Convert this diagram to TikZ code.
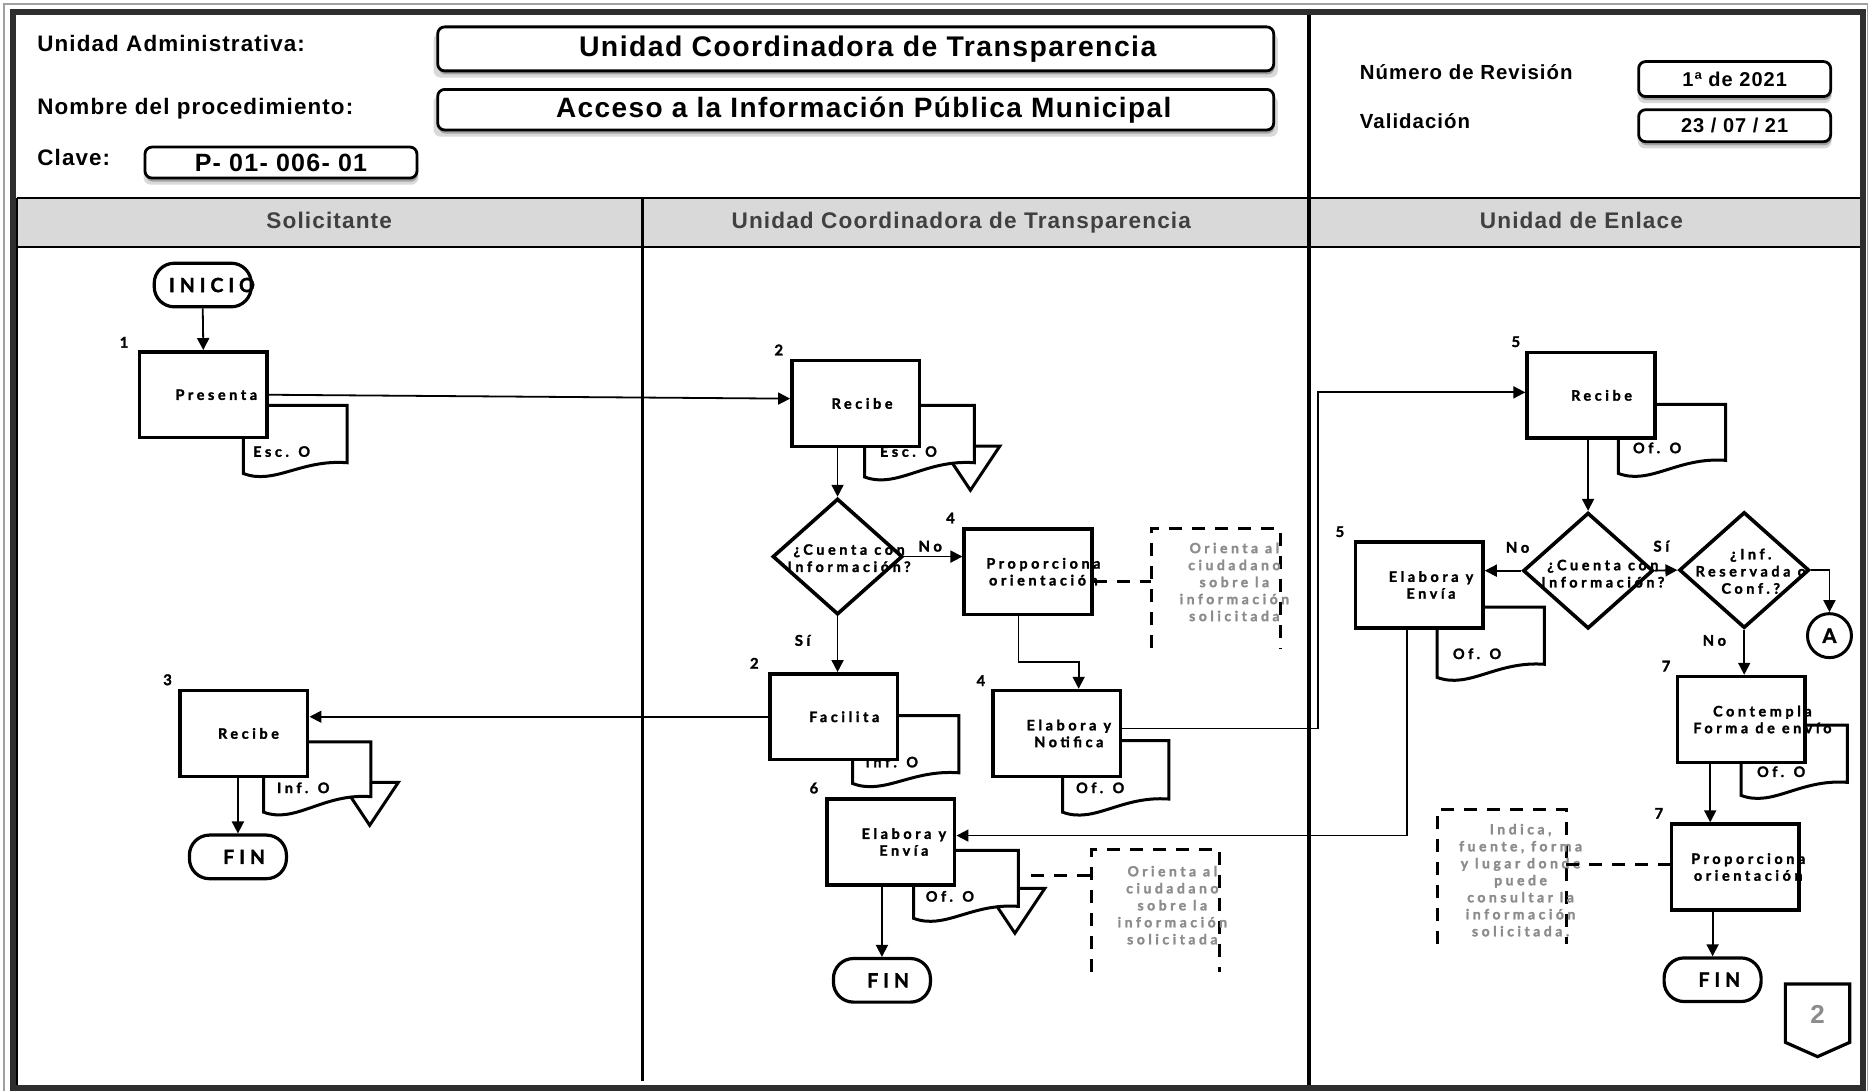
\documentclass[tikz,border=0pt]{standalone}
\usepackage{fontspec}
\usetikzlibrary{arrows.meta,shapes.geometric,shadows}
\newfontfamily\hdrfont[LetterSpace=5]{Liberation Sans}
\newfontfamily\flowfont[LetterSpace=25, FakeBold=1.8]{Lato}
\definecolor{framedark}{HTML}{2E2E2E}
\definecolor{framelight}{HTML}{A0A0A0}
\definecolor{lanefill}{HTML}{D9D9D9}
\definecolor{lanetext}{HTML}{404040}
\definecolor{notegray}{HTML}{8C8C8C}

% document symbol: x0, top, x1, left bottom, right bottom
\newcommand\flowdoc[5]{%
  \draw[docline] (#1,#2) -- (#3,#2) -- (#3,#5)
    .. controls ({#1+0.55*(#3-#1)},{#5-3}) and ({#1+0.3*(#3-#1)},{#4+10}) .. (#1,#4) -- cycle;}
% archive triangle: apex x, top y, half width
\newcommand\flowtri[3]{%
  \draw[docline] ({#1-#3},#2) -- ({#1+#3},#2) -- (#1,{#2+1.5*#3}) -- cycle;}

\begin{document}
\begin{tikzpicture}[x=0.5963pt, y=-0.5963pt,
  hlabel/.style={anchor=base west, inner sep=0pt, font=\hdrfont\bfseries\fontsize{11.2}{13}\selectfont},
  hlabelsm/.style={anchor=base west, inner sep=0pt, font=\hdrfont\bfseries\fontsize{10.2}{12}\selectfont},
  hbox/.style={draw, line width=1.4pt, rounded corners=3.5pt, fill=white, inner sep=0pt,
    drop shadow={shadow xshift=0pt, shadow yshift=-3.2pt, shadow scale=1.01, opacity=0.15, fill=black},
    drop shadow={shadow xshift=0.4pt, shadow yshift=-1.8pt, opacity=0.25, fill=black}},
  lanehead/.style={anchor=base, inner sep=0pt, text=lanetext, font=\hdrfont\bfseries\fontsize{11.3}{13}\selectfont},
  ptext/.style={inner sep=0pt, align=center, font=\flowfont\bfseries\fontsize{7.2}{8.4}\selectfont},
  proc/.style 2 args={draw, line width=1.8pt, fill=white, minimum width=63.8pt, minimum height=42.9pt,
    inner sep=0pt, label={[ptext, xshift=#2]center:#1}},
  ttext/.style={inner sep=0pt, font=\flowfont\bfseries\fontsize{9.8}{11}\selectfont},
  term/.style 2 args={draw, line width=1.6pt, fill=white, rounded corners=10pt, minimum width=48.5pt,
    minimum height=21.8pt, inner sep=0pt, label={[ttext, xshift=#2]center:#1}},
  decision/.style={diamond, draw, line width=1.8pt, fill=white, minimum width=65pt, minimum height=58pt, inner sep=0pt},
  dtext/.style={inner sep=0pt, align=center, font=\flowfont\bfseries\fontsize{7.2}{8.6}\selectfont},
  stepnum/.style={inner sep=0pt, font=\flowfont\bfseries\fontsize{7.4}{8}\selectfont},
  doctext/.style={anchor=base west, inner sep=0pt, font=\flowfont\bfseries\fontsize{7.2}{8}\selectfont},
  notebox/.style={inner sep=0pt},
  notetext/.style={inner sep=0pt, align=center, text=notegray, font=\flowfont\bfseries\fontsize{7}{8.5}\selectfont},
  docline/.style={line width=1.5pt, fill=white, line join=miter},
  dashline/.style={line width=1.5pt, dash pattern=on 6.5pt off 5pt},
  flow/.style={line width=0.9pt, -{Triangle[length=6pt,width=6pt]}}
]
\useasboundingbox (0,0) rectangle (1568,915);
\fill[white] (0,0) rectangle (1568,915);

% ---------- lane header band and lane lines ----------
\fill[lanefill] (15,166) rectangle (1562,207);
\draw[line width=1.3pt] (14,166) -- (1562,166);
\draw[line width=1.3pt] (14,207) -- (1562,207);
\draw[line width=1.3pt] (14,166) -- (14,912);
\draw[line width=1.6pt] (539,166) -- (539,906);
\draw[line width=1.6pt] (1097.5,10) -- (1097.5,912);

% ---------- outer frame ----------
\draw[framelight, line width=0.8pt] (3.5,915) -- (3.5,3.5) -- (1566,3.5) -- (1566,915);
\draw[framedark, line width=3pt] (10.6,10) rectangle (1562,912.5);

% ---------- title block ----------
\node[hlabel] (ua) at (31,43.6) {Unidad Administrativa:};
\node[hlabel] (np) at (31,95.6) {Nombre del procedimiento:};
\node[hlabel] (cl) at (31,139) {Clave:};
\node[hbox, minimum width=418pt, minimum height=22pt, font=\hdrfont\bfseries\fontsize{14.2}{16}\selectfont]
  (uct) at (717.5,41) {\hspace*{12pt}Unidad Coordinadora de Transparencia};
\node[hbox, minimum width=418pt, minimum height=20.3pt, font=\hdrfont\bfseries\fontsize{14}{16}\selectfont]
  (pname) at (717.5,92) {\hspace*{8pt}Acceso a la Información Pública Municipal};
\node[hbox, minimum width=136pt, minimum height=15.5pt, font=\hdrfont\bfseries\fontsize{12.5}{14}\selectfont]
  (clave) at (235.6,136.3) {P- 01- 006- 01};
\node[hlabelsm] (nr) at (1140,67) {Número de Revisión};
\node[hlabelsm] (va) at (1140,107.6) {Validación};
\node[hbox, minimum width=96pt, minimum height=17.5pt, font=\hdrfont\bfseries\fontsize{10}{12}\selectfont]
  (rev) at (1454.5,66.3) {1ª de 2021};
\node[hbox, minimum width=96pt, minimum height=16pt, font=\hdrfont\bfseries\fontsize{10}{12}\selectfont]
  (val) at (1454.5,105.4) {23 / 07 / 21};

\node[lanehead] (l1) at (276,192) {Solicitante};
\node[lanehead] (l2) at (806,192) {Unidad Coordinadora de Transparencia};
\node[lanehead] (l3) at (1326,192) {Unidad de Enlace};

% ---------- documents behind the activity boxes ----------
\flowtri{813.7}{374}{24.7}
\flowtri{310}{656}{24}
\flowtri{851}{745}{25}
\flowdoc{204}{340}{291}{397}{388}
\flowdoc{725}{340}{817}{400}{388}
\flowdoc{221}{622}{311}{681}{668}
\flowdoc{715}{600}{804}{657}{648}
\flowdoc{891}{621}{980}{681}{670}
\flowdoc{766}{713}{854}{770}{760}
\flowdoc{1357}{339}{1447}{397}{386}
\flowdoc{1205}{509}{1295}{568}{557}
\flowdoc{1460}{608}{1549}{667}{656}
\node[doctext] (dt1) at (212,383) {Esc. O};
\node[doctext] (dt2) at (737.6,383) {Esc. O};
\node[doctext] (dt3) at (232,665) {Inf. O};
\node[doctext] (dt4) at (725.5,643.4) {Inf. O};
\node[doctext] (dt5) at (902,665) {Of. O};
\node[doctext] (dt6) at (776,756) {Of. O};
\node[doctext] (dt7) at (1369,380) {Of. O};
\node[doctext] (dt8) at (1218,552.6) {Of. O};
\node[doctext] (dt9) at (1473,651.5) {Of. O};

% ---------- Solicitante ----------
\node[term={INICIO}{4.6pt}] (inicio) at (170,239) {};
\node[proc={Presenta}{6.5pt}] (presenta) at (170.5,331) {};
\node[proc={Recibe}{2.3pt}] (recibe3) at (204.5,615) {};
\node[term={FIN}{3.1pt}] (fin1) at (199.5,718.5) {};

% ---------- Unidad Coordinadora de Transparencia ----------
\node[proc={Recibe}{3.2pt}] (recibe2) at (717.5,338.3) {};
\node[decision] (d1) at (702.3,466.7) {};
\node[proc={Proporciona\\orientación}{7.7pt}] (prop4) at (862,479.4) {};
\node[proc={Facilita}{5.3pt}] (facilita) at (699,601) {};
\node[proc={Elabora y\\Notifica}{6.1pt}] (elabnot) at (886,615) {};
\node[proc={Elabora y\\Envía}{6.5pt}] (elab6) at (747,706) {};
\node[term={FIN}{3.1pt}] (fin2) at (739.5,822) {};

% ---------- Unidad de Enlace ----------
\node[proc={Recibe}{5.3pt}] (recibe5) at (1334,331.5) {};
\node[decision] (d2) at (1331.6,478.5) {};
\node[decision] (d3) at (1462.5,478) {};
\node[proc={Elabora y\\Envía}{5.9pt}] (elab5) at (1190,490.5) {};
\node[draw, circle, line width=1.5pt, fill=white, minimum size=22pt, inner sep=0pt,
  font=\flowfont\bfseries\fontsize{10}{11}\selectfont] (nodeA) at (1534,533) {A};
\node[proc={Contempla\\Forma de envío}{10.6pt}] (contempla) at (1460,603.3) {};
\node[proc={Proporciona\\orientación}{6.5pt}] (prop7) at (1455,727) {};
\node[term={FIN}{3.4pt}] (fin3) at (1436,821.5) {};

% decision texts
\node[dtext] (d1t) at (712,468) {¿Cuenta con\\Información?};
\node[dtext] (d2t) at (1344,481) {¿Cuenta con\\Información?};
\node[dtext] (d3t) at (1468,479) {¿Inf.\\Reservada o\\Conf.?};

% ---------- notes ----------
\node[notebox, minimum width=64.1pt, minimum height=59.5pt] (n1) at (1019.3,493.5) {};
\node[notebox, minimum width=63.7pt, minimum height=60.9pt] (n2) at (969,763.8) {};
\node[notebox, minimum width=63.8pt, minimum height=67.1pt] (n3) at (1259.5,735.3) {};
\draw[dashline] (n1.south west) -- (n1.north west) -- (n1.north east) -- (n1.south east);
\draw[dashline] (n2.south west) -- (n2.north west) -- (n2.north east) -- (n2.south east);
\draw[dashline] (n3.south west) -- (n3.north west) -- (n3.north east) -- (n3.south east);
\node[notetext] (n1t) at (1035,488) {Orienta al\\ciudadano\\sobre la\\información\\solicitada};
\node[notetext] (n2t) at (983,759) {Orienta al\\ciudadano\\sobre la\\información\\solicitada};
\node[notetext] (n3t) at (1275,738) {Indica,\\fuente, forma\\y lugar donde\\puede\\consultar la\\información\\solicitada.};

\coordinate (p4o) at ([yshift=-5.1pt]prop4.east);
\draw[dashline] (p4o) -- (p4o -| n1.west);
\coordinate (d6o) at (864.5,734.5);
\draw[dashline] (d6o) -- (d6o -| n2.west);
\coordinate (p7o) at ([yshift=1.4pt]prop7.west);
\draw[dashline] (p7o -| n3.east) -- (p7o);

% ---------- connectors ----------
\draw[flow] (inicio.south) -- (presenta.north);
\draw[flow] (presenta.east) -- ([yshift=2.4pt]recibe2.west);
\draw[flow] (recibe2.south -| d1.north) -- (d1.north);
\draw[flow] (d1.east) -- (d1.east -| prop4.west);
\draw[flow] (d1.south) -- (d1.south |- facilita.north);
\coordinate (p4b) at ([xshift=-4.8pt]prop4.south);
\coordinate (enT) at ([xshift=11pt]elabnot.north);
\draw[flow] (p4b) -- ++(0,38) -| (enT);
\draw[flow] (facilita.west) -- (facilita.west -| recibe3.east);
\draw[flow] (recibe3.south -| fin1.north) -- (fin1.north);
\coordinate (enR) at ([yshift=2.5pt]elabnot.east);
\coordinate (up1) at (1105,329);
\draw[flow] (enR) -| (up1) -- (up1 -| recibe5.west);
\draw[flow] (recibe5.south -| d2.north) -- (d2.north);
\draw[flow] (d2.west) -- (d2.west -| elab5.east);
\draw[flow] (d2.east) -- (d3.west);
\draw[flow] (d3.east) -| (nodeA.north);
\draw[flow] (d3.south) -- (d3.south |- contempla.north);
\coordinate (ctB) at ([xshift=-15.5pt]contempla.south);
\draw[flow] (ctB) -- (ctB |- prop7.north);
\draw[flow] (prop7.south -| fin3.north) -- (fin3.north);
\coordinate (e5B) at ([xshift=-6pt]elab5.south);
\coordinate (e6R) at ([yshift=3.2pt]elab6.east);
\draw[flow] (e5B) |- (e6R);
\draw[flow] (elab6.south -| fin2.north) -- (fin2.north);

% ---------- step numbers and branch labels ----------
\node[stepnum] (s1) at (104,287) {1};
\node[stepnum] (s2a) at (653,293.5) {2};
\node[stepnum] (s4a) at (797,434.4) {4};
\node[stepnum] (s2b) at (632.5,556.2) {2};
\node[stepnum] (s4b) at (822.5,570.8) {4};
\node[stepnum] (s6) at (682.5,660.8) {6};
\node[stepnum] (s3) at (140.5,570) {3};
\node[stepnum] (s5a) at (1271,286.5) {5};
\node[stepnum] (s5b) at (1123.5,445.8) {5};
\node[stepnum] (s7a) at (1397,558.5) {7};
\node[stepnum] (s7b) at (1391,682) {7};
\node[stepnum] (no1) at (780,458) {No};
\node[stepnum] (si1) at (673,537) {Sí};
\node[stepnum] (no2) at (1272.5,459) {No};
\node[stepnum] (si2) at (1393,458) {Sí};
\node[stepnum] (no3) at (1437.5,537) {No};

% ---------- off-page connector ----------
\draw[line width=1.6pt, fill=white, line join=miter] (1497,825) -- (1551,825) -- (1551,874) -- (1524,886) -- (1497,874) -- cycle;
\node[inner sep=0pt, text=notegray, font=\hdrfont\bfseries\fontsize{13}{15}\selectfont] (pg) at (1524,851) {2};
\end{tikzpicture}
\end{document}
